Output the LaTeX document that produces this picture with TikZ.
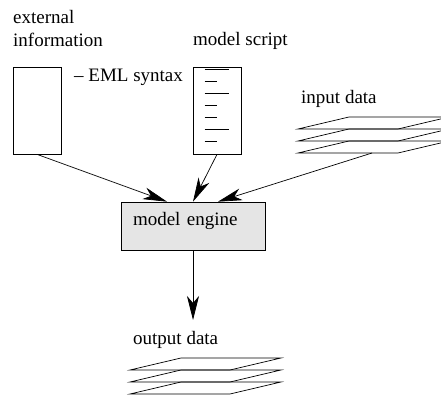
\documentclass[tikz,border=0pt]{standalone}
\usepackage{fontspec}
\setmainfont{Liberation Serif}
\usetikzlibrary{
arrows.meta,
positioning,
calc
}

\begin{document}
\begin{tikzpicture}
[x=1pt, y=-1pt,
font=\fontsize{19}{23}\selectfont,
block_doc/.style ={ rectangle, draw, fill=white, minimum width=48pt, minimum height=87pt, inner sep=0, line width=0.7pt},
block_engine/.style ={ rectangle, draw, fill=black!10, align=left, text width=120pt, inner xsep=12pt, inner ysep=0, minimum height=48pt, text depth=14pt, line width=0.7pt},
label_text/.style ={ inner sep=0, align=left},
line_flow/.style ={draw, line width=0.7pt, -{Stealth[length=24pt, width=12pt, inset=7pt]}},
datastack/.pic ={
  \foreach \k in {0,1,2}
    \draw[line width=0.7pt] (0,12*\k) -- (51,12*\k-12) -- (151,12*\k-12) -- (100,12*\k) -- cycle;
  \coordinate (-out) at (74,24);
}]

\useasboundingbox (0,0) rectangle (441,395);

% sources
\node[block_doc] (extbox) at (37,110.5) {};
\node[label_text, anchor=north west] (extlbl) at (13,10) {external\\information};
\node[label_text, anchor=base west] (emllbl) at (74,82) {-- EML syntax};

\node[block_doc] (scriptbox) at (217,110.5) {};
\node[label_text, anchor=base west] (scriptlbl) at (193,46) {model script};
\foreach \i/\len in {0/24,1/12,2/24,3/12,4/12,5/24,6/12}
  \draw[line width=0.7pt] ($(scriptbox.north west)+(12,3+11.9*\i)$) -- ++(\len,0);

\pic (indata) at (298,129) {datastack};
\node[label_text, anchor=base west] (inlbl) at (301,104) {input data};

% engine
\node[block_engine] (engine) at (193,226) {model engine};

% output
\coordinate (outtip) at (193,320);
\node[label_text, anchor=base west] (outlbl) at (133,344) {output data};
\pic (outdata) at (130,370) {datastack};

%%arrows%%
\draw[line_flow] (extbox.south) to ($(engine.north)+(-26,0)$);
\draw[line_flow] (scriptbox.south) to (engine.north);
\draw[line_flow] (indata-out) to ($(engine.north)+(25,0)$);
\draw[line_flow] (engine.south) to (outtip);

\end{tikzpicture}
\end{document}
